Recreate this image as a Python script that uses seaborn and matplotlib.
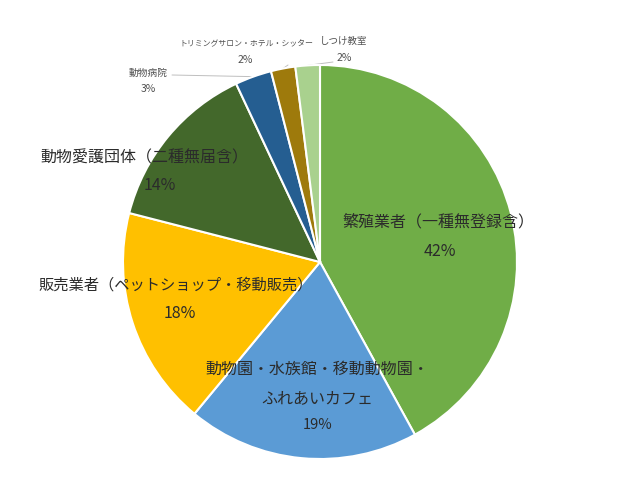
import numpy as np
import matplotlib
matplotlib.use("Agg")
import matplotlib.pyplot as plt
import seaborn as sns

# data
categories = [
    "繁殖業者（一種無登録含）",
    "動物園・水族館・移動動物園・\nふれあいカフェ",
    "販売業者（ペットショップ・移動販売）",
    "動物愛護団体（二種無届含）",
    "動物病院",
    "トリミングサロン・ホテル・シッター",
    "しつけ教室",
]
shares = [42, 19, 18, 14, 3, 2, 2]
colors = ["#70AD47", "#5B9BD5", "#FFC000", "#43682B", "#255E91", "#9E7A0C", "#A9D18E"]

sns.set_theme(style="white")
plt.rcParams["font.family"] = ["Noto Sans CJK JP", "DejaVu Sans"]

fig = plt.figure(figsize=(6.4, 4.8), dpi=100)
ax = fig.add_axes([0, 0, 1, 1])

wedges, _ = ax.pie(
    shares,
    colors=colors,
    startangle=90,
    counterclock=False,
    radius=1.0,
    wedgeprops=dict(edgecolor="white", linewidth=1.5),
)

# pie centre at pixel (320, 262), radius 197 px
R = 197.0
ax.set_xlim(-320 / R, 320 / R)
ax.set_ylim((262 - 480) / R, 262 / R)
ax.set_axis_off()

def px(x, y):
    return ((x - 320) / R, (262 - y) / R)

txt = "#2b2b2b"
small = "#505050"

# label / percent positions in pixels: (name xy, pct xy, name size, pct size)
layout = [
    ((438, 222), (440, 252), 11.5, 11.5),
    ((317, 384), (318, 425), 11.5, 10.5),
    ((176, 285), (180, 313), 11, 11.5),
    ((144, 158), (160, 186), 11.5, 11.5),
    ((148, 73), (148, 89), 7, 7.5),
    ((246, 44), (245, 60), 5.7, 7.5),
    ((344, 41), (344, 58), 6.8, 7.5),
]

for i, (name, val) in enumerate(zip(categories, shares)):
    (nx, ny), (vx, vy), fs, fv = layout[i]
    col = txt if fs > 8 else small
    lsp = 1.9 if "\n" in name else 1.2
    ax.text(*px(nx, ny), name, ha="center", va="center", fontsize=fs,
            color=col, linespacing=lsp)
    ax.text(*px(vx, vy), f"{val}%", ha="center", va="center",
            fontsize=fv, color=col)

# leader lines for the small slices
leader_from = {4: (172, 75), 5: (288, 65), 6: (333, 62)}
for i, (lx, ly) in leader_from.items():
    w = wedges[i]
    mid = np.deg2rad((w.theta1 + w.theta2) / 2)
    ex, ey = np.cos(mid), np.sin(mid)
    sx, sy = px(lx, ly)
    ax.plot([sx, ex], [sy, ey], color="#BFBFBF", linewidth=0.7, zorder=0)

fig.savefig("out.png", dpi=100, facecolor="white")
